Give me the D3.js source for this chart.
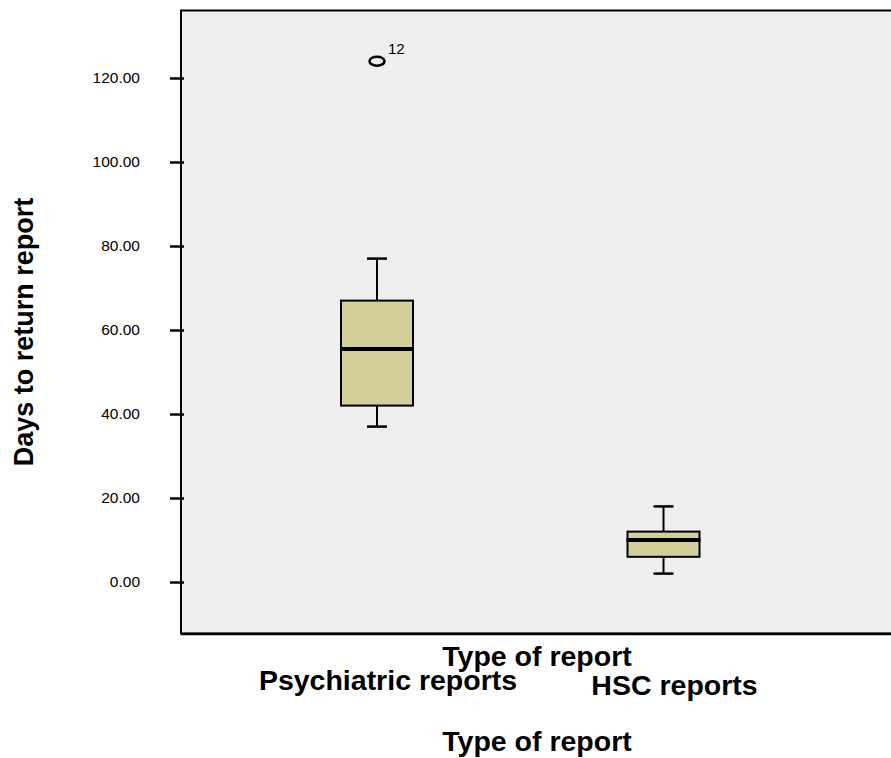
<!DOCTYPE html>
<html>
<head>
<meta charset="utf-8">
<script src="https://cdn.jsdelivr.net/npm/d3@7"></script>
<style>
    body { margin: 0; background: #fff; }
    text { font-family: "Liberation Sans", Arial, sans-serif; }
</style>
</head>
<body>
<div class="chart"></div>
<script>
//--data--
var categories = ["Psychiatric reports", "HSC reports"];
var whiskerLow = [37, 2];
var q1 = [42, 6];
var median = [55.5, 10];
var q3 = [67, 12];
var whiskerHigh = [77, 18];
var outlierCat = ["Psychiatric reports"];
var outlierVal = [124];
var outlierLabel = ["12"];
var tickValues = [0, 20, 40, 60, 80, 100, 120];

//--layout--
var width = 891, height = 758;
var frame = { left: 181, right: 893, top: 10.5, bottom: 633.5 };

var svg = d3.select(".chart")
    .append("svg")
    .attr("width", width)
    .attr("height", height);

//--scales--
var y = d3.scaleLinear()
    .domain([-12.26, 136.07])
    .range([frame.bottom, frame.top]);

var x = d3.scalePoint()
    .domain(categories)
    .range([frame.left + 196, frame.left + 482.5]);

//--plot frame--
svg.append("rect")
    .attr("x", frame.left)
    .attr("y", frame.top)
    .attr("width", frame.right - frame.left)
    .attr("height", frame.bottom - frame.top)
    .attr("fill", "#efefef")
    .attr("stroke", "#000")
    .attr("stroke-width", 2);
svg.append("line")
    .attr("x1", frame.left).attr("x2", frame.right)
    .attr("y1", frame.bottom + 0.5).attr("y2", frame.bottom + 0.5)
    .attr("stroke", "#000").attr("stroke-width", 2.5);

//--y axis--
var gy = svg.append("g")
    .attr("transform", "translate(" + (frame.left + 3) + ",0)")
    .call(d3.axisLeft(y)
        .tickValues(tickValues)
        .tickFormat(d3.format(".2f"))
        .tickSize(14)
        .tickPadding(30));
gy.select(".domain").remove();
gy.selectAll(".tick line").attr("stroke", "#000").attr("stroke-width", 2.5);
gy.selectAll(".tick text")
    .attr("fill", "#000")
    .style("font-size", "15.5px")
    .style("font-family", "'Liberation Sans', Arial, sans-serif");

//--boxes--
var boxW = 72, capW = 20;
var boxes = svg.append("g")
    .selectAll("g")
    .data(categories)
    .join("g");

// whiskers
boxes.append("line")
    .attr("x1", d => x(d)).attr("x2", d => x(d))
    .attr("y1", (d, i) => y(whiskerHigh[i])).attr("y2", (d, i) => y(q3[i]))
    .attr("stroke", "#000").attr("stroke-width", 2);
boxes.append("line")
    .attr("x1", d => x(d)).attr("x2", d => x(d))
    .attr("y1", (d, i) => y(q1[i])).attr("y2", (d, i) => y(whiskerLow[i]))
    .attr("stroke", "#000").attr("stroke-width", 2);
boxes.append("line")
    .attr("x1", d => x(d) - capW / 2).attr("x2", d => x(d) + capW / 2)
    .attr("y1", (d, i) => y(whiskerHigh[i])).attr("y2", (d, i) => y(whiskerHigh[i]))
    .attr("stroke", "#000").attr("stroke-width", 2.5);
boxes.append("line")
    .attr("x1", d => x(d) - capW / 2).attr("x2", d => x(d) + capW / 2)
    .attr("y1", (d, i) => y(whiskerLow[i])).attr("y2", (d, i) => y(whiskerLow[i]))
    .attr("stroke", "#000").attr("stroke-width", 2.5);

// box
boxes.append("rect")
    .attr("x", d => x(d) - boxW / 2)
    .attr("width", boxW)
    .attr("y", (d, i) => y(q3[i]))
    .attr("height", (d, i) => y(q1[i]) - y(q3[i]))
    .attr("fill", "#d3cf9b")
    .attr("stroke", "#000")
    .attr("stroke-width", 2);

// median
boxes.append("line")
    .attr("x1", d => x(d) - boxW / 2 - 1).attr("x2", d => x(d) + boxW / 2 + 1)
    .attr("y1", (d, i) => y(median[i])).attr("y2", (d, i) => y(median[i]))
    .attr("stroke", "#000").attr("stroke-width", 4);

//--outliers--
svg.append("g")
    .selectAll("ellipse")
    .data(outlierVal)
    .join("ellipse")
    .attr("cx", (d, i) => x(outlierCat[i]))
    .attr("cy", d => y(d))
    .attr("rx", 7.5)
    .attr("ry", 4.5)
    .attr("fill", "none")
    .attr("stroke", "#000")
    .attr("stroke-width", 2.5);
svg.append("g")
    .selectAll("text")
    .data(outlierVal)
    .join("text")
    .attr("x", (d, i) => x(outlierCat[i]) + 11)
    .attr("y", d => y(d) - 7)
    .style("font-size", "15px")
    .text((d, i) => outlierLabel[i]);

//--axis titles--
var bold = "bold";
svg.append("text")
    .attr("transform", "translate(33," + 332 + ") rotate(-90)")
    .attr("text-anchor", "middle")
    .style("font-size", "27px").style("font-weight", bold)
    .text("Days to return report");

svg.append("text")
    .attr("x", (frame.left + frame.right) / 2)
    .attr("y", 666)
    .attr("text-anchor", "middle")
    .style("font-size", "28.5px").style("font-weight", bold)
    .text("Type of report");

// category labels (slightly offset like the original)
svg.append("g")
    .selectAll("text")
    .data(categories)
    .join("text")
    .attr("x", d => x(d) + 11)
    .attr("y", (d, i) => i === 0 ? 690 : 695)
    .attr("text-anchor", "middle")
    .style("font-size", "28.5px").style("font-weight", bold)
    .text(d => d);

svg.append("text")
    .attr("x", (frame.left + frame.right) / 2)
    .attr("y", 751)
    .attr("text-anchor", "middle")
    .style("font-size", "28.5px").style("font-weight", bold)
    .text("Type of report");
</script>
</body>
</html>
